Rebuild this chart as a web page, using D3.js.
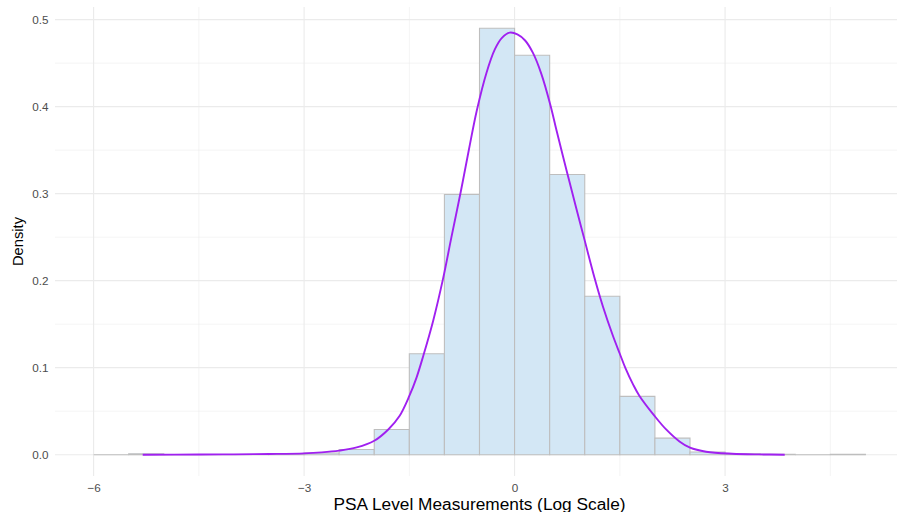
<!DOCTYPE html>
<html>
<head>
<meta charset="utf-8">
<script src="https://cdn.jsdelivr.net/npm/d3@7"></script>
<style>
  html, body { margin: 0; padding: 0; background: #ffffff; }
  svg { display: block; font-family: "Liberation Sans", Arial, Helvetica, sans-serif; }
</style>
</head>
<body>
<svg id="chart" width="897" height="512"></svg>
<script>
// Histogram bins (log PSA), width 0.5, from -6 to 5
const binStarts = [-6, -5.5, -5, -4.5, -4, -3.5, -3, -2.5, -2, -1.5, -1, -0.5, 0, 0.5, 1, 1.5, 2, 2.5, 3, 3.5, 4, 4.5];
const binWidth = 0.5;
const binDensity = [0, 0.001, 0, 0, 0, 0.0005, 0.002, 0.006, 0.029, 0.116, 0.299, 0.490, 0.459, 0.322, 0.182, 0.067, 0.019, 0.003, 0.001, 0.0005, 0, 0.0005];

// Kernel density curve
const densX = [-5.3, -4.5, -4.0, -3.5, -3.0, -2.75, -2.5, -2.25, -2.0, -1.8, -1.64, -1.5, -1.4, -1.3, -1.16, -1.02, -0.9, -0.77, -0.65, -0.54, -0.40, -0.28, -0.18, -0.07, 0.04, 0.15, 0.26, 0.38, 0.51, 0.60, 0.74, 0.88, 1.00, 1.14, 1.26, 1.40, 1.50, 1.58, 1.69, 1.78, 2.00, 2.16, 2.35, 2.50, 2.73, 3.10, 3.50, 3.85];
const densY = [0.0000, 0.0002, 0.0004, 0.0008, 0.0015, 0.0026, 0.0046, 0.0083, 0.0160, 0.0290, 0.0445, 0.0675, 0.0880, 0.1140, 0.1540, 0.2020, 0.2500, 0.3010, 0.3510, 0.3950, 0.4390, 0.4660, 0.4790, 0.4850, 0.4830, 0.4760, 0.4620, 0.4380, 0.4020, 0.3720, 0.3270, 0.2830, 0.2460, 0.2030, 0.1700, 0.1370, 0.1160, 0.0995, 0.0805, 0.0675, 0.0440, 0.0290, 0.0152, 0.0080, 0.0034, 0.0011, 0.0003, 0.0000];

const xTicks = [-6, -3, 0, 3];
const xMinor = [-4.5, -1.5, 1.5, 4.5];
const yTicks = [0, 0.1, 0.2, 0.3, 0.4, 0.5];
const yMinor = [0.05, 0.15, 0.25, 0.35, 0.45];

const xTitle = "PSA Level Measurements (Log Scale)";
const yTitle = "Density";

const svg = d3.select("#chart");
const panel = { left: 55, right: 904, top: 7, bottom: 476 };

const x = d3.scaleLinear().domain([-6.55, 5.55]).range([panel.left, panel.right]);
const y = d3.scaleLinear().domain([-0.0245, 0.5145]).range([panel.bottom, panel.top]);

const grid = svg.append("g");
grid.selectAll("line.xmin").data(xMinor).join("line")
  .attr("x1", d => x(d)).attr("x2", d => x(d))
  .attr("y1", panel.top).attr("y2", panel.bottom)
  .attr("stroke", "#ebebeb").attr("stroke-width", 0.55);
grid.selectAll("line.ymin").data(yMinor).join("line")
  .attr("y1", d => y(d)).attr("y2", d => y(d))
  .attr("x1", panel.left).attr("x2", panel.right)
  .attr("stroke", "#ebebeb").attr("stroke-width", 0.55);
grid.selectAll("line.xmaj").data(xTicks).join("line")
  .attr("x1", d => x(d)).attr("x2", d => x(d))
  .attr("y1", panel.top).attr("y2", panel.bottom)
  .attr("stroke", "#ebebeb").attr("stroke-width", 1.1);
grid.selectAll("line.ymaj").data(yTicks).join("line")
  .attr("y1", d => y(d)).attr("y2", d => y(d))
  .attr("x1", panel.left).attr("x2", panel.right)
  .attr("stroke", "#ebebeb").attr("stroke-width", 1.1);

// bars (paths so zero-height bars still show their outline)
const bars = binStarts.map((s, i) => ({ x0: s, x1: s + binWidth, v: binDensity[i] }));
svg.append("g").selectAll("path").data(bars).join("path")
  .attr("d", d => {
    const p = d3.path();
    p.moveTo(x(d.x0), y(0));
    p.lineTo(x(d.x0), y(d.v));
    p.lineTo(x(d.x1), y(d.v));
    p.lineTo(x(d.x1), y(0));
    p.closePath();
    return p.toString();
  })
  .attr("fill", "#d3e7f5")
  .attr("stroke", "#bebebe")
  .attr("stroke-width", 1.1);

// density curve
const pts = densX.map((v, i) => [v, densY[i]]);
const line = d3.line().x(d => x(d[0])).y(d => y(d[1])).curve(d3.curveCatmullRom.alpha(0.5));
svg.append("path").datum(pts)
  .attr("d", line)
  .attr("fill", "none")
  .attr("stroke", "#a020f0")
  .attr("stroke-width", 1.9)
  .attr("stroke-linejoin", "round");

// axes
const xAxis = svg.append("g").attr("transform", `translate(0,${panel.bottom})`)
  .call(d3.axisBottom(x).tickValues(xTicks).tickSize(0).tickPadding(8).tickFormat(d3.format("d")));
const yAxis = svg.append("g").attr("transform", `translate(${panel.left},0)`)
  .call(d3.axisLeft(y).tickValues(yTicks).tickSize(0).tickPadding(6.5).tickFormat(d3.format(".1f")));
[xAxis, yAxis].forEach(a => {
  a.select(".domain").remove();
  a.selectAll("text").attr("fill", "#4d4d4d").style("font-size", "11.7px")
    .style("font-family", "'Liberation Sans', Arial, Helvetica, sans-serif");
});

// titles
svg.append("text")
  .attr("x", (panel.left + panel.right) / 2)
  .attr("y", 509.5)
  .attr("text-anchor", "middle")
  .attr("fill", "#000000")
  .style("font-size", "17.3px")
  .text(xTitle);
svg.append("text")
  .attr("transform", `translate(22.5,${(panel.top + panel.bottom) / 2}) rotate(-90)`)
  .attr("text-anchor", "middle")
  .attr("fill", "#000000")
  .style("font-size", "14.7px")
  .text(yTitle);
</script>
</body>
</html>
